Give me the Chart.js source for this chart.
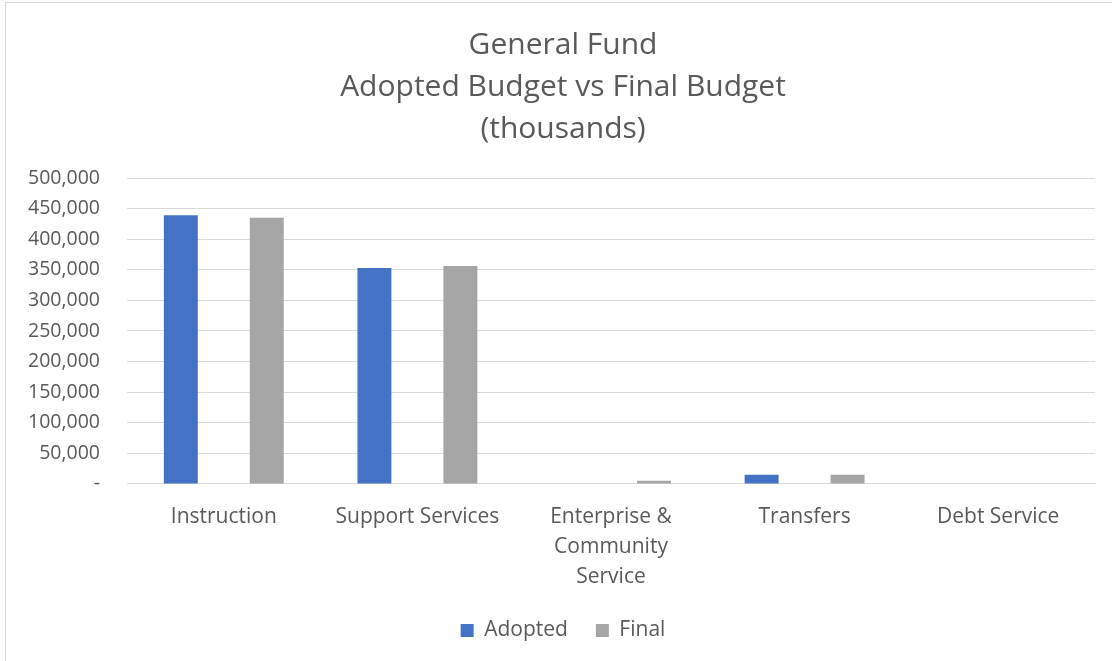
<!DOCTYPE html>
<html>
<head>
<meta charset="utf-8">
<script src="https://cdn.jsdelivr.net/npm/chart.js@4/dist/chart.umd.min.js"></script>
<style>
    body { margin: 0; background: #fff; overflow: hidden; }
    #frame {
        position: absolute; left: 5px; top: 2px;
        width: 1120px; height: 670px;
        border: 1px solid #d9d9d9; box-sizing: border-box;
    }
    #wrap { position: absolute; left: 0; top: 0; width: 1126px; height: 661px; }
</style>
</head>
<body>
<div id="frame"></div>
<div id="wrap"><canvas id="budgetChart"></canvas></div>
<script>
var categories = ['Instruction', 'Support Services', ['Enterprise &', 'Community', 'Service'], 'Transfers', 'Debt Service'];
var adopted = [439000, 353000, 0, 14800, 0];
var finalBudget = [435000, 356000, 5000, 15000, 0];
var yTicks = [0, 50000, 100000, 150000, 200000, 250000, 300000, 350000, 400000, 450000, 500000];

var textColor = '#595959';
var fontFamily = '"Open Sans", "Noto Sans", sans-serif';

// y labels sit left of the padded box, so widen the axis box after layout (stops clipping)
var yLabelRoom = {
    id: 'yLabelRoom',
    afterLayout: function(chart) {
        chart.scales.y.left = 0;
    }
};

var ctx = document.getElementById('budgetChart').getContext('2d');
var chart = new Chart(ctx, {
    type: 'bar',
    data: {
        labels: categories,
        datasets: [
            {
                label: 'Adopted',
                data: adopted,
                backgroundColor: '#4472C4',
                categoryPercentage: 0.888,
                barPercentage: 0.395
            },
            {
                label: 'Final',
                data: finalBudget,
                backgroundColor: '#A5A5A5',
                categoryPercentage: 0.888,
                barPercentage: 0.395
            }
        ]
    },
    options: {
        responsive: true,
        maintainAspectRatio: false,
        animation: false,
        layout: {
            padding: { left: 31, right: 31, top: 10, bottom: 10 }
        },
        scales: {
            y: {
                min: 0,
                max: 500000,
                afterBuildTicks: function(axis) {
                    axis.ticks = yTicks.map(function(v) { return { value: v }; });
                },
                afterFit: function(scale) {
                    scale.width = 96;
                },
                grid: { color: '#d9d9d9', drawTicks: false },
                border: { display: false },
                ticks: {
                    padding: 27,
                    color: textColor,
                    font: { family: fontFamily, size: 19.5 },
                    callback: function(value) {
                        return value === 0 ? '-' : value.toLocaleString('en-US');
                    }
                }
            },
            x: {
                afterFit: function(scale) {
                    scale.height -= 10;
                },
                grid: { display: false },
                border: { color: '#d9d9d9' },
                ticks: {
                    padding: 10,
                    color: textColor,
                    maxRotation: 0,
                    font: { family: fontFamily, size: 21, lineHeight: 1.43 }
                }
            }
        },
        plugins: {
            title: {
                display: true,
                text: ['General Fund', 'Adopted Budget vs Final Budget', '(thousands)'],
                color: textColor,
                font: { family: fontFamily, size: 30, weight: 'normal', lineHeight: 1.4 },
                padding: { top: 14, bottom: 28 }
            },
            legend: {
                display: true,
                position: 'bottom',
                labels: {
                    color: textColor,
                    boxWidth: 13,
                    boxHeight: 13,
                    padding: 28,
                    font: { family: fontFamily, size: 21 }
                }
            },
            tooltip: { enabled: false }
        }
    },
    plugins: [yLabelRoom]
});
</script>
</body>
</html>
